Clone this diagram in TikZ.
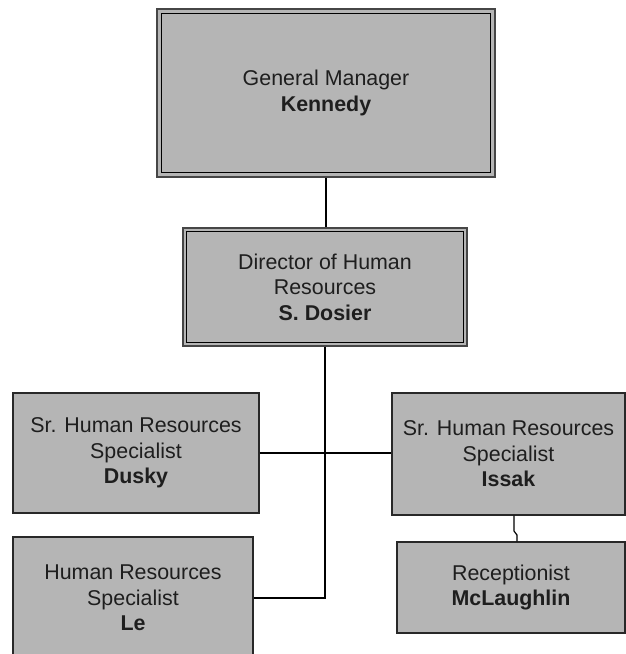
\documentclass[tikz,border=0pt]{standalone}
\usepackage{fontspec}
\setmainfont{Liberation Sans}
\definecolor{boxfill}{RGB}{181,181,181}
\definecolor{boxline}{RGB}{40,40,40}
\definecolor{outerline}{RGB}{70,70,70}
\definecolor{txt}{RGB}{30,30,30}
\tikzset{
  post/.style={rectangle, fill=boxfill, draw=boxline, line width=1.3pt,
    inner sep=0pt, align=center, text=txt,
    font=\fontsize{21.4}{25.5}\selectfont},
  headpost/.style={post, draw=outerline, line width=1.1pt},
  innerframe/.style={draw=black, line width=1.4pt},
  link/.style={draw=black, line width=1.2pt}
}
\begin{document}
\begin{tikzpicture}[x=1pt,y=-1pt]
  \useasboundingbox (0,0) rectangle (626,654);
  \clip (0,0) rectangle (626,654);

  % boxes
  \node[headpost, minimum width=338pt, minimum height=168pt] (gm) at (326,93)
    {General Manager\\\textbf{Kennedy}};
  \draw[innerframe] ([shift={(5,5)}]gm.north west) rectangle ([shift={(-5,-5)}]gm.south east);

  \node[headpost, minimum width=284pt, minimum height=118pt] (dir) at (325,287)
    {Director of Human\\Resources\\\textbf{S. Dosier}};
  \draw[innerframe] ([shift={(4,4)}]dir.north west) rectangle ([shift={(-4,-4)}]dir.south east);

  \node[post, minimum width=246pt, minimum height=120pt] (dusky) at (136,453)
    {Sr. Human Resources\\Specialist\\\textbf{Dusky}};
  \node[post, minimum width=233pt, minimum height=122pt] (issak) at (508.5,454)
    {Sr. Human Resources\\Specialist\\\textbf{Issak}};
  \node[post, minimum width=228pt, minimum height=91pt] (recep) at (511,587.5)
    {Receptionist\\\textbf{McLaughlin}};
  \node[post, minimum width=240pt, minimum height=122pt] (le) at (133,598)
    {Human Resources\\Specialist\\\textbf{Le}};

  % reporting lines
  \draw[link] (gm.south) -- (gm.south |- dir.north);
  \draw[link] (dir.south) -- (dir.south |- le.east) -- (le.east);
  \draw[link] (dusky.east) -- (dusky.east -| issak.west);
  \coordinate (jogtop) at (514,531);
  \coordinate (jogbot) at (517,535);
  \draw[link] (jogtop |- issak.south) -- (jogtop) -- (jogbot) -- (jogbot |- recep.north);
\end{tikzpicture}
\end{document}
